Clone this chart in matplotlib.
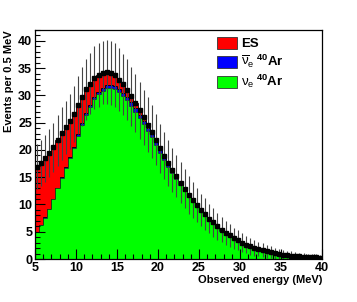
import numpy as np
import matplotlib
matplotlib.use("Agg")
import matplotlib.pyplot as plt
from matplotlib.patches import Patch
from matplotlib.ticker import MultipleLocator

# 70 bins of 0.5 MeV from 5 to 40 MeV
bin_edges = np.arange(5.0, 40.01, 0.5)

nue_ar = [5.0, 6.2, 7.6, 9.2, 11.0, 13.0, 14.9, 16.7, 18.5, 20.4,
          22.6, 24.6, 26.4, 27.9, 29.3, 30.2, 30.9, 31.3, 31.3, 31.2,
          30.6, 29.9, 29.1, 28.1, 27.0, 25.9, 24.7, 23.5, 22.3, 20.9,
          19.5, 18.2, 16.9, 15.8, 14.7, 13.5, 12.5, 11.4, 10.5, 9.6,
          8.7, 8.0, 7.2, 6.5, 5.8, 5.2, 4.65, 4.2, 3.7, 3.3,
          2.9, 2.57, 2.27, 1.98, 1.74, 1.54, 1.35, 1.15, 1.0, 0.88,
          0.77, 0.67, 0.59, 0.52, 0.46, 0.41, 0.36, 0.32, 0.28, 0.26]

nuebar_ar = [0.03, 0.04, 0.05, 0.06, 0.08, 0.10, 0.12, 0.15, 0.18, 0.22,
             0.26, 0.30, 0.34, 0.38, 0.42, 0.46, 0.50, 0.53, 0.56, 0.58,
             0.60, 0.61, 0.62, 0.62, 0.61, 0.60, 0.58, 0.56, 0.54, 0.51,
             0.48, 0.45, 0.42, 0.40, 0.37, 0.34, 0.32, 0.29, 0.27, 0.25,
             0.23, 0.21, 0.19, 0.18, 0.16, 0.15, 0.14, 0.12, 0.11, 0.10,
             0.09, 0.085, 0.08, 0.07, 0.065, 0.06, 0.055, 0.05, 0.045, 0.04,
             0.035, 0.032, 0.03, 0.027, 0.025, 0.022, 0.02, 0.018, 0.016, 0.015]

es = [11.9, 11.4, 10.8, 10.1, 9.4, 8.7, 8.0, 7.3, 6.6, 6.0,
      5.4, 4.9, 4.4, 3.9, 3.5, 3.1, 2.8, 2.5, 2.2, 1.95,
      1.7, 1.5, 1.3, 1.1, 0.95, 0.8, 0.7, 0.6, 0.5, 0.42,
      0.35, 0.3, 0.25, 0.2, 0.16, 0.13, 0.1, 0.08, 0.06, 0.05,
      0.04, 0.03, 0.03, 0.02, 0.02, 0.015, 0.01, 0.01, 0.01, 0.005,
      0, 0, 0, 0, 0, 0, 0, 0, 0, 0,
      0, 0, 0, 0, 0, 0, 0, 0, 0, 0]

plt.rcParams["font.family"] = ["Liberation Sans", "DejaVu Sans"]
plt.rcParams["font.weight"] = "bold"
plt.rcParams["mathtext.fontset"] = "custom"
plt.rcParams["mathtext.rm"] = "Liberation Sans:bold"
plt.rcParams["mathtext.it"] = "Liberation Sans:normal"
plt.rcParams["mathtext.bf"] = "Liberation Sans:bold"

green = np.array(nue_ar)
blue_top = green + np.array(nuebar_ar)
total = blue_top + np.array(es)
centers = 0.5 * (bin_edges[:-1] + bin_edges[1:])

fig = plt.figure(figsize=(3.57, 3.02), dpi=100)
ax = fig.add_axes([35 / 357, 43 / 302, 287 / 357, 229 / 302])

ax.stairs(total, bin_edges, fill=True, facecolor="#ff0000", edgecolor="black", linewidth=0.6)
ax.stairs(blue_top, bin_edges, fill=True, facecolor="#0000ff", edgecolor="black", linewidth=0.6)
ax.stairs(green, bin_edges, fill=True, facecolor="#00ff00", edgecolor="#202020", linewidth=0.4)

ax.errorbar(centers, total, yerr=np.sqrt(total), fmt="s", color="black",
            ecolor="#454545", elinewidth=0.8, markersize=2.2, capsize=0)

ax.set_xlim(5, 40)
ax.set_ylim(0, 42)
ax.xaxis.set_major_locator(MultipleLocator(5))
ax.xaxis.set_minor_locator(MultipleLocator(1))
ax.yaxis.set_major_locator(MultipleLocator(5))
ax.yaxis.set_minor_locator(MultipleLocator(1))
ax.tick_params(which="both", direction="in", top=False, right=False, labelsize=9, pad=2)
ax.tick_params(which="major", length=7, width=0.8)
ax.tick_params(which="minor", length=3.5, width=0.8)
for lab in ax.get_xticklabels() + ax.get_yticklabels():
    lab.set_fontweight("bold")
for sp in ax.spines.values():
    sp.set_linewidth(0.9)

ax.set_xlabel("Observed energy (MeV)", fontsize=8, fontweight="bold", loc="right", labelpad=1)
ax.set_ylabel("Events per 0.5 MeV", fontsize=8, fontweight="bold", loc="top", labelpad=3)

handles = [Patch(facecolor="#ff0000", edgecolor="#333333", linewidth=0.6),
           Patch(facecolor="#0000ff", edgecolor="#333333", linewidth=0.6),
           Patch(facecolor="#00ff00", edgecolor="#333333", linewidth=0.6)]
labels = ["ES", r"$\overline{\nu}_{e}\;^{40}$Ar", r"$\nu_{e}\;^{40}$Ar"]
leg = ax.legend(handles, labels, loc="upper left", bbox_to_anchor=(217 / 357, 1 - 37 / 302),
                bbox_transform=fig.transFigure, frameon=False, fontsize=9.5,
                handlelength=1.55, handleheight=1.0, handletextpad=0.3, labelspacing=0.2,
                borderpad=0, borderaxespad=0)
for t in leg.get_texts():
    t.set_fontweight("bold")

fig.savefig("out.png", dpi=100)
